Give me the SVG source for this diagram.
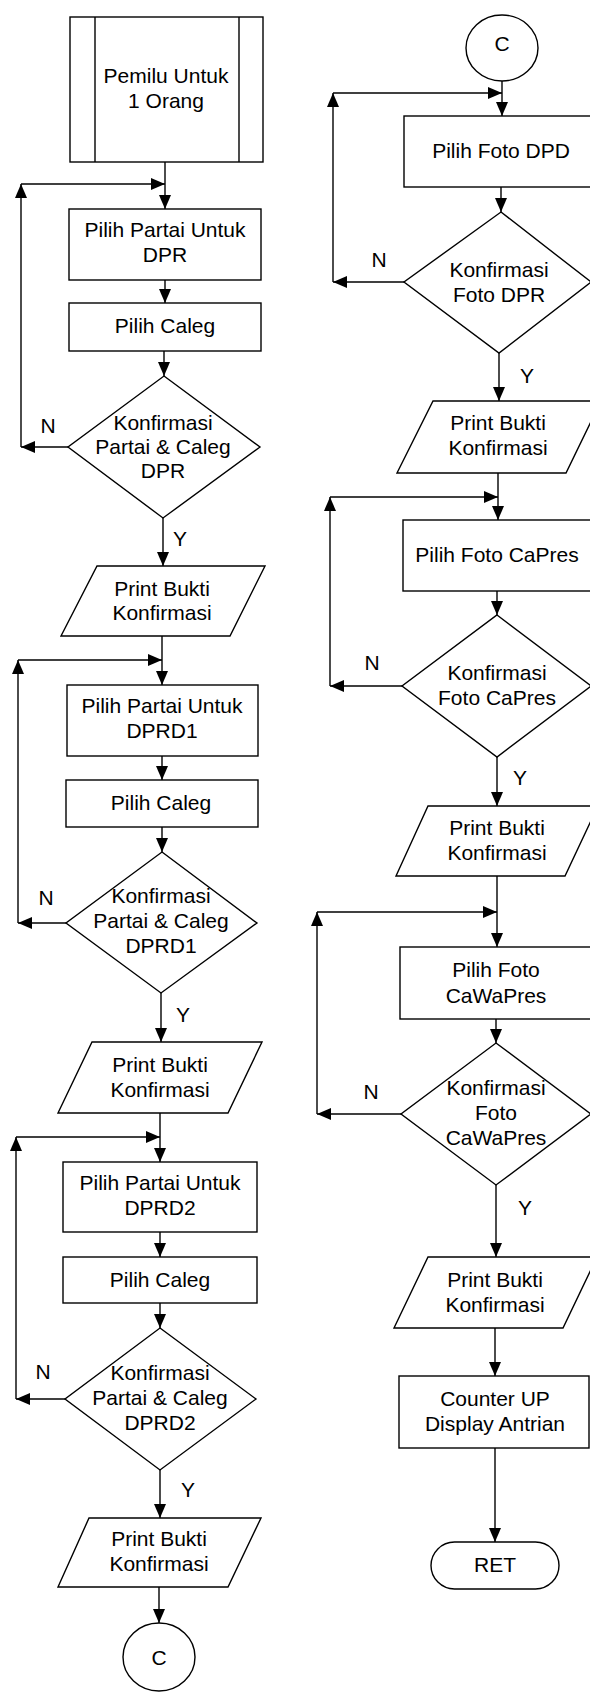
<svg xmlns="http://www.w3.org/2000/svg" width="590" height="1692" viewBox="0 0 590 1692">
  <style>
    .shape { fill: #ffffff; stroke: #000000; stroke-width: 1.4; }
    .line { fill: none; stroke: #000000; stroke-width: 1.4; }
    .arrow { fill: none; stroke: #000000; stroke-width: 1.4; marker-end: url(#ah); }
    text { font-family: "Liberation Sans", Arial, sans-serif; font-size: 21px; fill: #000000; text-anchor: middle; }
  </style>
  <defs>
    <marker id="ah" markerUnits="userSpaceOnUse" markerWidth="14" markerHeight="12" viewBox="0 0 14 12" refX="14" refY="6" orient="auto">
      <path d="M0,0 L14,6 L0,12 Z" fill="#000000"/>
    </marker>
  </defs>
  <rect width="590" height="1692" fill="#ffffff"/>

  <!-- connectors -->
  <g id="connectors">
    <!-- left column: DPR -->
    <path class="arrow" d="M165,162 L165,209"/>
    <path class="arrow" d="M165,280 L165,303"/>
    <path class="arrow" d="M164,351 L164,376"/>
    <path class="arrow" d="M68,447 L21,447"/>
    <path class="arrow" d="M21,447 L21,184"/>
    <path class="arrow" d="M21,184 L165,184"/>
    <path class="arrow" d="M163,518 L163,566"/>
    <!-- left column: DPRD1 -->
    <path class="arrow" d="M162,636 L162,685"/>
    <path class="arrow" d="M162,756 L162,780"/>
    <path class="arrow" d="M162,827 L162,852"/>
    <path class="arrow" d="M66,923 L18,923"/>
    <path class="arrow" d="M18,923 L18,660"/>
    <path class="arrow" d="M18,660 L162,660"/>
    <path class="arrow" d="M161,993 L161,1042"/>
    <!-- left column: DPRD2 -->
    <path class="arrow" d="M160,1113 L160,1162"/>
    <path class="arrow" d="M160,1232 L160,1257"/>
    <path class="arrow" d="M160,1303 L160,1328"/>
    <path class="arrow" d="M65,1399 L16,1399"/>
    <path class="arrow" d="M16,1399 L16,1137"/>
    <path class="arrow" d="M16,1137 L160,1137"/>
    <path class="arrow" d="M160,1470 L160,1518"/>
    <path class="arrow" d="M159,1587 L159,1623"/>
    <!-- right column: DPD -->
    <path class="arrow" d="M502,81 L502,116"/>
    <path class="arrow" d="M501,187 L501,212"/>
    <path class="arrow" d="M404,282 L333,282"/>
    <path class="arrow" d="M333,282 L333,93"/>
    <path class="arrow" d="M333,93 L502,93"/>
    <path class="arrow" d="M499,353 L499,401"/>
    <!-- right column: CaPres -->
    <path class="arrow" d="M498,473 L498,520"/>
    <path class="arrow" d="M497,591 L497,615"/>
    <path class="arrow" d="M402,686 L330,686"/>
    <path class="arrow" d="M330,686 L330,497"/>
    <path class="arrow" d="M330,497 L498,497"/>
    <path class="arrow" d="M497,757 L497,806"/>
    <!-- right column: CaWaPres -->
    <path class="arrow" d="M497,876 L497,947"/>
    <path class="arrow" d="M496,1019 L496,1043"/>
    <path class="arrow" d="M401,1114 L317,1114"/>
    <path class="arrow" d="M317,1114 L317,912"/>
    <path class="arrow" d="M317,912 L497,912"/>
    <path class="arrow" d="M496,1185 L496,1257"/>
    <path class="arrow" d="M495,1328 L495,1376"/>
    <path class="arrow" d="M495,1448 L495,1542"/>
    <!-- branch labels -->
    <text x="48" y="433">N</text>
    <text x="180" y="546">Y</text>
    <text x="46" y="905">N</text>
    <text x="183" y="1022">Y</text>
    <text x="43" y="1379">N</text>
    <text x="188" y="1497">Y</text>
    <text x="379" y="267">N</text>
    <text x="527" y="383">Y</text>
    <text x="372" y="670">N</text>
    <text x="520" y="785">Y</text>
    <text x="371" y="1099">N</text>
    <text x="525" y="1215">Y</text>
  </g>

  <!-- left column -->
  <g id="start">
    <rect class="shape" x="70" y="17" width="193" height="145"/>
    <path class="line" d="M95,17 L95,162 M239,17 L239,162"/>
    <text x="166" y="83">Pemilu Untuk</text>
    <text x="166" y="108">1 Orang</text>
  </g>
  <g id="pilih-partai-dpr">
    <rect class="shape" x="69" y="209" width="192" height="71"/>
    <text x="165" y="237">Pilih Partai Untuk</text>
    <text x="165" y="262">DPR</text>
  </g>
  <g id="pilih-caleg-dpr">
    <rect class="shape" x="69" y="303" width="192" height="48"/>
    <text x="165" y="333">Pilih Caleg</text>
  </g>
  <g id="konfirmasi-dpr">
    <polygon class="shape" points="164,376 260,447 163,518 68,447"/>
    <text x="163" y="430">Konfirmasi</text>
    <text x="163" y="454">Partai &amp; Caleg</text>
    <text x="163" y="478">DPR</text>
  </g>
  <g id="print-dpr">
    <polygon class="shape" points="97,566 265,566 230,636 61,636"/>
    <text x="162" y="596">Print Bukti</text>
    <text x="162" y="620">Konfirmasi</text>
  </g>
  <g id="pilih-partai-dprd1">
    <rect class="shape" x="67" y="685" width="191" height="71"/>
    <text x="162" y="713">Pilih Partai Untuk</text>
    <text x="162" y="738">DPRD1</text>
  </g>
  <g id="pilih-caleg-dprd1">
    <rect class="shape" x="66" y="780" width="192" height="47"/>
    <text x="161" y="810">Pilih Caleg</text>
  </g>
  <g id="konfirmasi-dprd1">
    <polygon class="shape" points="162,852 257,923 161,993 66,923"/>
    <text x="161" y="903">Konfirmasi</text>
    <text x="161" y="928">Partai &amp; Caleg</text>
    <text x="161" y="953">DPRD1</text>
  </g>
  <g id="print-dprd1">
    <polygon class="shape" points="92,1042 262,1042 228,1113 58,1113"/>
    <text x="160" y="1072">Print Bukti</text>
    <text x="160" y="1097">Konfirmasi</text>
  </g>
  <g id="pilih-partai-dprd2">
    <rect class="shape" x="63" y="1162" width="194" height="70"/>
    <text x="160" y="1190">Pilih Partai Untuk</text>
    <text x="160" y="1215">DPRD2</text>
  </g>
  <g id="pilih-caleg-dprd2">
    <rect class="shape" x="63" y="1257" width="194" height="46"/>
    <text x="160" y="1287">Pilih Caleg</text>
  </g>
  <g id="konfirmasi-dprd2">
    <polygon class="shape" points="160,1328 256,1399 160,1470 65,1399"/>
    <text x="160" y="1380">Konfirmasi</text>
    <text x="160" y="1405">Partai &amp; Caleg</text>
    <text x="160" y="1430">DPRD2</text>
  </g>
  <g id="print-dprd2">
    <polygon class="shape" points="89,1518 261,1518 228,1587 58,1587"/>
    <text x="159" y="1546">Print Bukti</text>
    <text x="159" y="1571">Konfirmasi</text>
  </g>
  <g id="connector-out">
    <ellipse class="shape" cx="159" cy="1657" rx="36" ry="34"/>
    <text x="159" y="1665">C</text>
  </g>

  <!-- right column -->
  <g id="connector-in">
    <ellipse class="shape" cx="502" cy="48" rx="36" ry="33"/>
    <text x="502" y="51">C</text>
  </g>
  <g id="pilih-foto-dpd">
    <rect class="shape" x="404" y="116" width="196" height="71"/>
    <text x="501" y="158">Pilih Foto DPD</text>
  </g>
  <g id="konfirmasi-foto-dpr">
    <polygon class="shape" points="501,212 591,282 499,353 404,282"/>
    <text x="499" y="277">Konfirmasi</text>
    <text x="499" y="302">Foto DPR</text>
  </g>
  <g id="print-dpd">
    <polygon class="shape" points="433,401 601,401 566,473 397,473"/>
    <text x="498" y="430">Print Bukti</text>
    <text x="498" y="455">Konfirmasi</text>
  </g>
  <g id="pilih-foto-capres">
    <rect class="shape" x="403" y="520" width="195" height="71"/>
    <text x="497" y="562">Pilih Foto CaPres</text>
  </g>
  <g id="konfirmasi-foto-capres">
    <polygon class="shape" points="497,615 591,686 497,757 402,686"/>
    <text x="497" y="680">Konfirmasi</text>
    <text x="497" y="705">Foto CaPres</text>
  </g>
  <g id="print-capres">
    <polygon class="shape" points="428,806 598,806 565,876 396,876"/>
    <text x="497" y="835">Print Bukti</text>
    <text x="497" y="860">Konfirmasi</text>
  </g>
  <g id="pilih-foto-cawapres">
    <rect class="shape" x="400" y="947" width="196" height="72"/>
    <text x="496" y="977">Pilih Foto</text>
    <text x="496" y="1003">CaWaPres</text>
  </g>
  <g id="konfirmasi-foto-cawapres">
    <polygon class="shape" points="496,1043 591,1114 496,1185 401,1114"/>
    <text x="496" y="1095">Konfirmasi</text>
    <text x="496" y="1120">Foto</text>
    <text x="496" y="1145">CaWaPres</text>
  </g>
  <g id="print-cawapres">
    <polygon class="shape" points="428,1257 597,1257 563,1328 394,1328"/>
    <text x="495" y="1287">Print Bukti</text>
    <text x="495" y="1312">Konfirmasi</text>
  </g>
  <g id="counter-up">
    <rect class="shape" x="399" y="1376" width="190" height="72"/>
    <text x="495" y="1406">Counter UP</text>
    <text x="495" y="1431">Display Antrian</text>
  </g>
  <g id="ret">
    <rect class="shape" x="431" y="1542" width="128" height="47" rx="23.5" ry="23.5"/>
    <text x="495" y="1572">RET</text>
  </g>
</svg>
